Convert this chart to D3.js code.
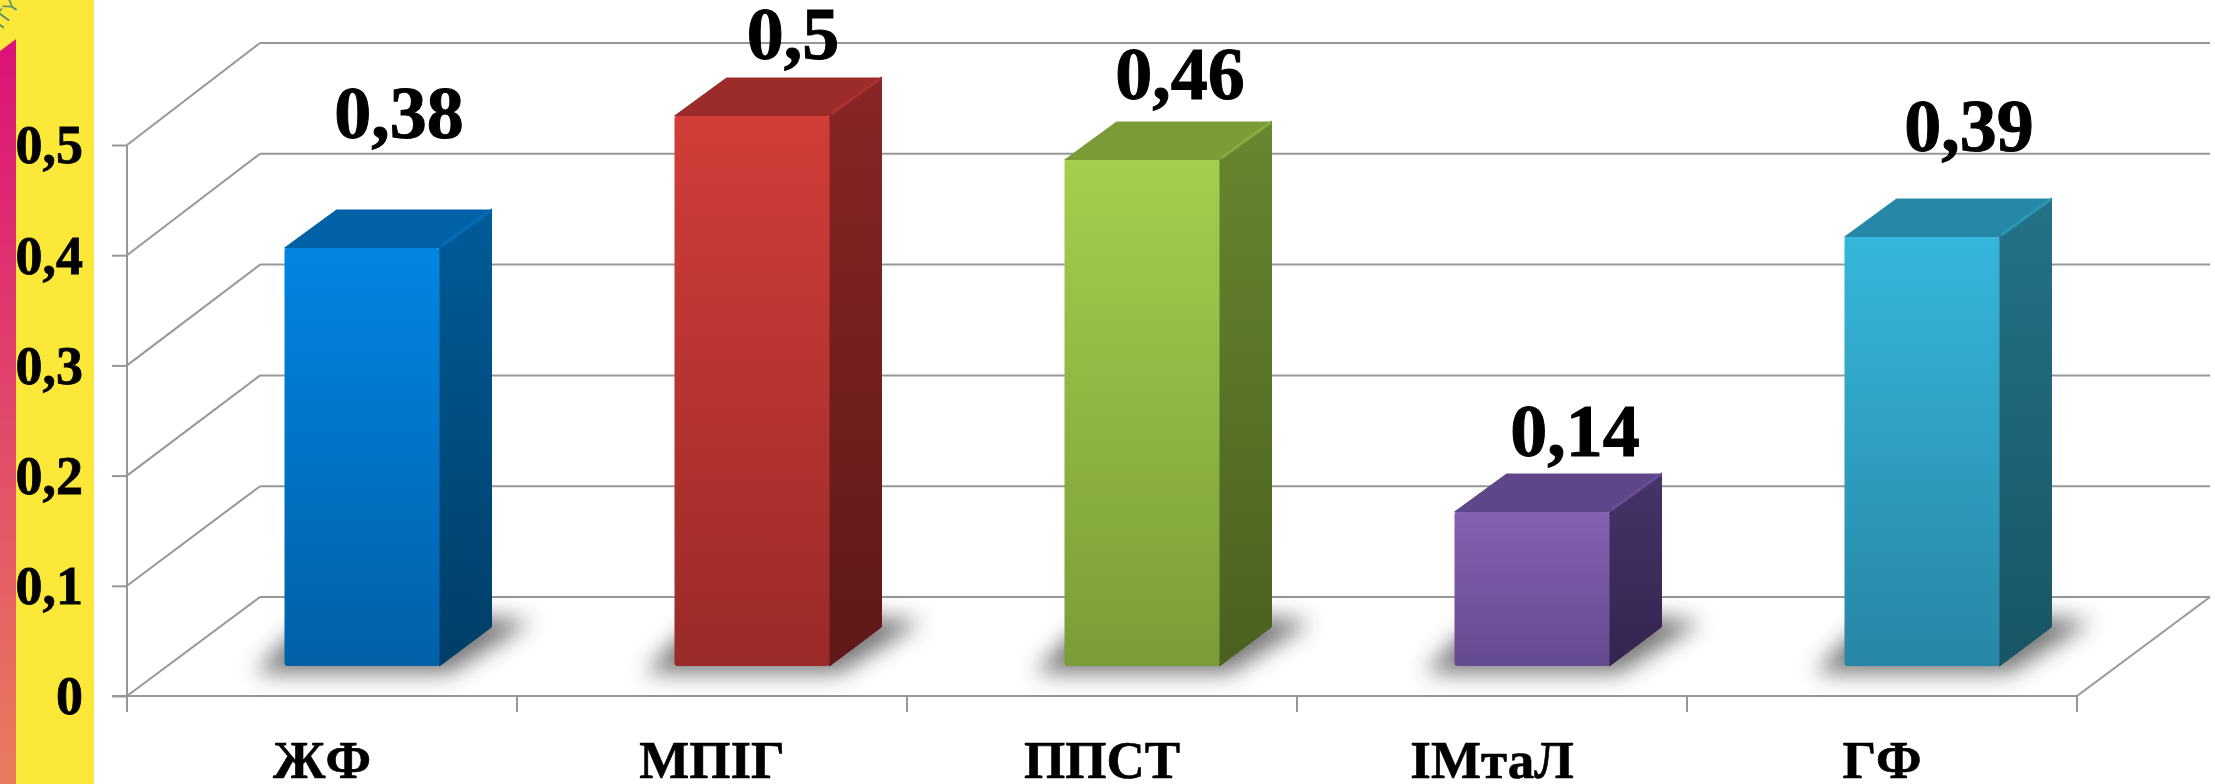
<!DOCTYPE html>
<html><head><meta charset="utf-8">
<script src="https://d3js.org/d3.v7.min.js"></script>
<style>html,body{margin:0;padding:0;background:#fff;overflow:hidden}svg{display:block}</style>
</head><body><svg id="c" width="2215" height="784"></svg>
<script>
const categories = ["ЖФ","МПІГ","ППСТ","ІМтаЛ","ГФ"];
const values = [0.38,0.5,0.46,0.14,0.39];
const valueLabels = ["0,38","0,5","0,46","0,14","0,39"];
const yTicks = [0,0.1,0.2,0.3,0.4,0.5];
const yTickLabels = ["0","0,1","0,2","0,3","0,4","0,5"];
const labelLift = [110,57,61,56,86];
const labelShift = [37,41,38,43,47];
const palette = [
 {f:["#0285E2","#0060A8"],s:["#005B98","#003E68"],t:"#0061A6"},
 {f:["#D23D39","#9A2A28"],s:["#872625","#5F1818"],t:"#9C2C2A"},
 {f:["#A4CF4C","#7A9C38"],s:["#68872F","#4A6020"],t:"#7B9B36"},
 {f:["#8561B2","#644A90"],s:["#463369","#35244F"],t:"#5F4689"},
 {f:["#36B6DC","#2786A5"],s:["#237288","#185565"],t:"#2688A6"}
];
const W=2215,H=784, grid="#979797";
const svg=d3.select("#c");
const defs=svg.append("defs");
const lg=(id,a,b)=>{const g=defs.append("linearGradient").attr("id",id).attr("x1",0).attr("y1",0).attr("x2",0).attr("y2",1);
 g.append("stop").attr("offset",0).attr("stop-color",a);g.append("stop").attr("offset",1).attr("stop-color",b);};
lg("strip","#DC1278","#E97C5C");
palette.forEach((p,i)=>{lg("f"+i,p.f[0],p.f[1]);lg("s"+i,p.s[0],p.s[1]);});
defs.append("filter").attr("id","blur").attr("x","-30%").attr("y","-80%").attr("width","160%").attr("height","260%")
 .append("feGaussianBlur").attr("stdDeviation",11);

// left decorative band
svg.append("rect").attr("x",0).attr("y",0).attr("width",94).attr("height",H).attr("fill","#FBE838");
svg.append("path").attr("d","M0,51L16,39V784H0Z").attr("fill","url(#strip)");
svg.append("text").attr("transform","translate(2,30) rotate(-54)").attr("font-family","'Liberation Sans'").attr("font-size",20).attr("fill","#5f9070").text("ITY");

// scales
const yFront=d3.scaleLinear().domain([0,0.5]).range([696,145]);
const yBack=d3.scaleLinear().domain([0,0.5]).range([597,43]);
const yBar=d3.scaleLinear().domain([0,0.5]).range([666,116]);
const xAxisScale=d3.scaleBand().domain(categories).range([127,2077]);
const xBar=d3.scaleBand().domain(categories).range([167,2117]).paddingInner(235/390).paddingOuter(235/780);
const xL=127,xB=260,xR=2210,xFR=2077;

// walls
const g=svg.append("g").attr("fill","none").attr("stroke",grid).attr("stroke-width",2);
yTicks.forEach(t=>{
 g.append("line").attr("x1",xL).attr("y1",yFront(t)).attr("x2",xB).attr("y2",yBack(t));
 g.append("line").attr("x1",xB).attr("y1",yBack(t)).attr("x2",xR).attr("y2",yBack(t));
});
g.append("line").attr("x1",xFR).attr("y1",yFront(0)).attr("x2",xR).attr("y2",yBack(0));

// axes
const ax=svg.append("g").attr("transform",`translate(${xL},0)`)
 .call(d3.axisLeft(yFront).tickValues(yTicks).tickSize(15).tickPadding(29).tickFormat((d,i)=>yTickLabels[i]));
const bx=svg.append("g").attr("transform",`translate(0,${yFront(0)})`)
 .call(d3.axisBottom(xAxisScale).tickSize(0).tickPadding(0).tickFormat(""));
[ax,bx].forEach(a=>{a.selectAll("path,line").attr("stroke",grid).attr("stroke-width",2);});
ax.select(".domain").attr("d",`M0,${yFront(0.5)}V712`);
bx.select(".domain").attr("d",`M112,0H${xFR}`);
bx.selectAll(".tick").remove();
const boundaries=[...categories.map(c=>xAxisScale(c)),xFR];
bx.selectAll("line.b").data(boundaries).join("line").attr("class","b").attr("x1",d=>d).attr("x2",d=>d).attr("y1",0).attr("y2",16).attr("stroke",grid).attr("stroke-width",2);
ax.selectAll("text").attr("font-family","'Liberation Serif'").attr("font-weight","bold").attr("font-size",54).attr("fill","#000").attr("stroke","#000").attr("stroke-width",0.8).attr("dy","0.33em");

// bars
const DX=52,DY=39;
const bars=svg.selectAll("g.bar").data(categories).join("g").attr("class","bar");
bars.each(function(c,i){
 const s=d3.select(this),x0=xBar(c),x1=x0+xBar.bandwidth(),y0=yBar(0),yt=yBar(values[i]);
 s.append("path").attr("d",`M${x0-30},${y0+7}L${x1+10},${y0+7}L${x1+92},${y0-44}L${x1+40},${y0-50}L${x0+10},${y0-34}Z`)
  .attr("fill","#383838").attr("opacity",0.68).attr("filter","url(#blur)");
 s.append("path").attr("d",`M${x1},${y0}L${x1+DX},${y0-DY}V${yt-DY}L${x1},${yt}Z`).attr("fill",`url(#s${i})`).attr("stroke",`url(#s${i})`).attr("stroke-width",1).attr("stroke-linejoin","round");
 s.append("path").attr("d",`M${x0},${yt}L${x0+DX},${yt-DY+1}H${x1+DX}L${x1},${yt}Z`).attr("fill",palette[i].t).attr("stroke",palette[i].t).attr("stroke-width",1).attr("stroke-linejoin","round");
 s.append("line").attr("x1",x1+2).attr("y1",yt-2).attr("x2",x1+DX).attr("y2",yt-DY+1).attr("stroke",palette[i].f[0]).attr("stroke-opacity",0.35).attr("stroke-width",3);
 s.append("rect").attr("x",x0).attr("y",yt).attr("width",x1-x0).attr("height",y0-yt).attr("rx",3).attr("fill",`url(#f${i})`);
 s.append("text").attr("x",x0+(x1-x0)/2+labelShift[i]).attr("y",yt-labelLift[i]).attr("text-anchor","middle")
  .attr("font-family","'Liberation Serif'").attr("font-weight","bold").attr("font-size",74).attr("fill","#000").attr("stroke","#000").attr("stroke-width",1).text(valueLabels[i]);
});

// category labels
svg.selectAll("text.cat").data(categories).join("text").attr("class","cat")
 .attr("x",c=>xAxisScale(c)+xAxisScale.bandwidth()/2).attr("y",778).attr("text-anchor","middle")
 .attr("font-family","'Liberation Serif'").attr("font-weight","bold").attr("font-size",53).attr("fill","#000").attr("stroke","#000").attr("stroke-width",0.6).text(c=>c);
</script></body></html>
